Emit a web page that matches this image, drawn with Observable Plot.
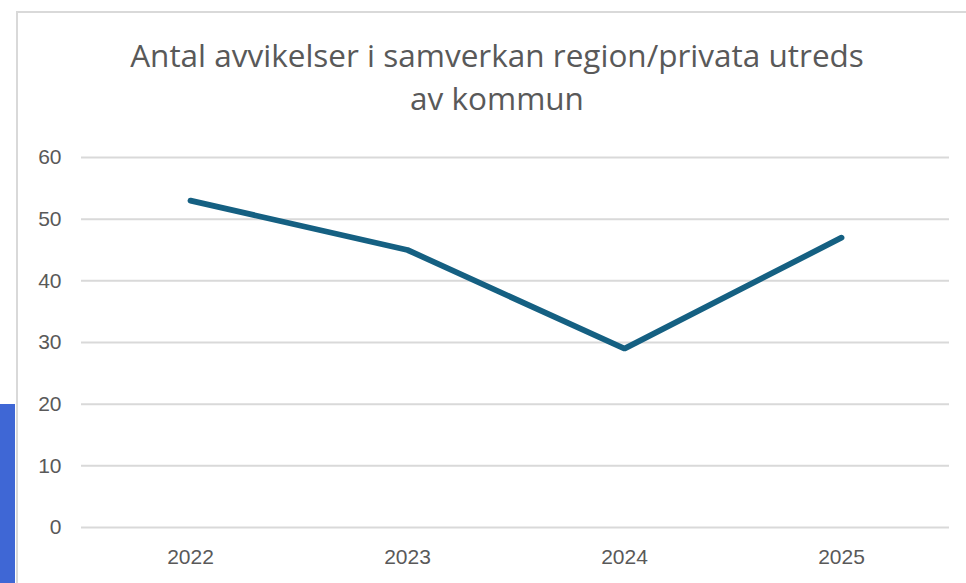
<!DOCTYPE html>
<html>
<head>
<meta charset="utf-8">
<script src="https://cdn.jsdelivr.net/npm/d3@7"></script>
<script src="https://cdn.jsdelivr.net/npm/@observablehq/plot@0.6"></script>
<style>
  html, body { margin: 0; padding: 0; background: #fff; }
  #wrap { position: relative; width: 966px; height: 583px; overflow: hidden; background: #fff; }
  #frame { position: absolute; left: 16px; top: 11px; width: 1000px; height: 700px; border: 2px solid #d9d9d9; box-sizing: border-box; }
  #side { position: absolute; left: 0; top: 404px; width: 15px; height: 179px; background: #3f67d5; }
  #title { position: absolute; left: 0; width: 994px; top: 33px; text-align: center; font-family: "Open Sans", "Noto Sans", sans-serif; font-size: 31.5px; line-height: 43px; color: #595959; white-space: nowrap; }
  #chart { position: absolute; left: 0; top: 0; }
</style>
</head>
<body>
<div id="wrap">
  <div id="frame"></div>
  <div id="side"></div>
  <div id="title">Antal avvikelser i samverkan region/privata utreds<br>av kommun</div>
  <div id="chart"></div>
</div>
<script>
const years = ["2022", "2023", "2024", "2025"];
const values = [53, 45, 29, 47];
const yTicks = [0, 10, 20, 30, 40, 50, 60];

const data = years.map((y, i) => ({year: y, value: values[i]}));

const plot = Plot.plot({
  width: 966,
  height: 583,
  marginTop: 157,
  marginBottom: 56,
  marginLeft: 81,
  marginRight: 17,
  style: {background: "transparent", fontFamily: "'Liberation Sans', Arial, sans-serif", fontSize: "21px", color: "#595959", overflow: "visible"},
  x: {type: "point", domain: years, padding: 0.5, label: null},
  y: {domain: [0, 60], label: null},
  marks: [
    Plot.ruleY(yTicks, {stroke: "#d9d9d9", strokeWidth: 2}),
    Plot.axisY(yTicks, {tickSize: 0, tickPadding: 20, fill: "#595959", fontSize: 21, label: null}),
    Plot.axisX(years, {tickSize: 0, tickPadding: 22, fill: "#595959", fontSize: 21, label: null}),
    Plot.line(data, {x: "year", y: "value", stroke: "#156082", strokeWidth: 5.8, strokeLinecap: "round", strokeLinejoin: "miter"})
  ]
});
document.getElementById("chart").appendChild(plot);
</script>
</body>
</html>
